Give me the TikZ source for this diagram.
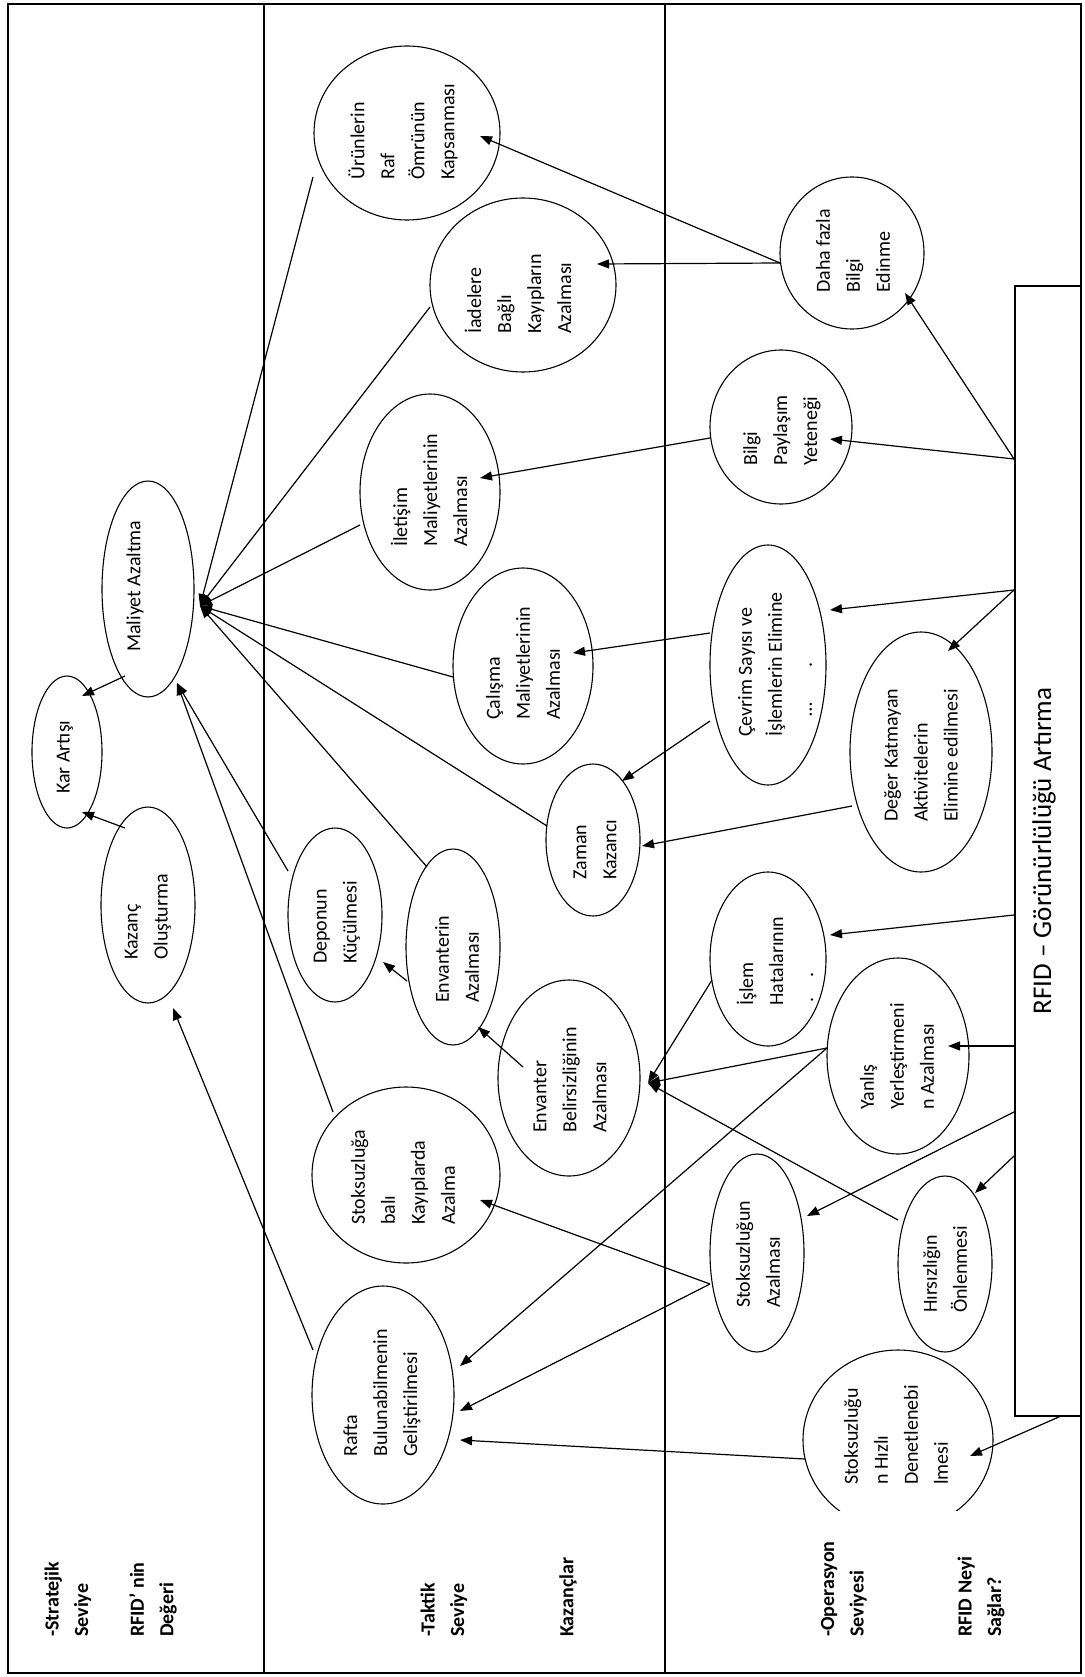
\documentclass[tikz,border=0pt]{standalone}
\usepackage{fontspec}
\setmainfont{Carlito}
\usetikzlibrary{shapes.geometric,arrows.meta,calc}
\begin{document}
\begin{tikzpicture}[x=1pt,y=-1pt,
  oval/.style={draw,ellipse,inner sep=0pt,line width=1.1pt},
  lbl/.style={rotate=90,anchor=west,align=left,inner sep=0pt,font=\fontsize{20}{30}\selectfont},
  head/.style={rotate=90,anchor=west,align=left,inner sep=0pt,font=\fontsize{20}{29.5}\selectfont\bfseries},
  link/.style={line width=1.2pt},
  arr/.style={line width=1.2pt,-{Triangle[length=12pt,width=9pt]}},
  rule/.style={line width=2.8pt}]
\useasboundingbox (0,0) rectangle (1084,1677);
\fill[white] (0,0) rectangle (1084,1677);

% frame and the three level columns
\draw[rule] (8,4) rectangle (1081,1673);
\draw[rule] (264,4) -- (264,1673);
\draw[rule] (665,4) -- (665,1673);

% RFID box along the right edge
\node[draw,line width=2.8pt,minimum width=66pt,minimum height=1130pt,inner sep=0pt] (rfid) at (1048,851) {};
\node[rotate=90,inner sep=0pt,font=\fontsize{27}{32}\selectfont] (rfid-t) at (1044,851) {RFID – Görünürlülüğü Artırma};

% level headings
\node[head] (h1) at (68,1637) {-Stratejik\\Seviye};
\node[head] (h2) at (153,1637) {RFID’ nin\\Değeri};
\node[head] (h3) at (444,1637) {-Taktik\\Seviye};
\node[head] (h4) at (568,1637) {Kazançlar};
\node[head] (h5) at (844,1637) {-Operasyon\\Seviyesi};
\node[head] (h6) at (981,1637) {RFID Neyi\\Sağlar?};

% ovals
\node[oval,minimum width=70pt,minimum height=152pt] (kar) at (67,752) {};
\node[oval,minimum width=92pt,minimum height=216pt] (mal) at (148,589) {};
\node[oval,minimum width=94pt,minimum height=196pt] (kaz) at (148,905) {};
\node[oval,minimum width=186pt,minimum height=174pt] (urun) at (407,133) {};
\node[oval,minimum width=186pt,minimum height=174pt] (iade) at (523,285) {};
\node[oval,minimum width=140pt,minimum height=196pt] (ilet) at (430,492) {};
\node[oval,minimum width=140pt,minimum height=196pt] (cal) at (523,666) {};
\node[oval,minimum width=94pt,minimum height=152pt] (zam) at (593,840) {};
\node[oval,minimum width=94pt,minimum height=174pt] (depo) at (335,915) {};
\node[oval,minimum width=94pt,minimum height=196pt] (envz) at (453,947) {};
\node[oval,minimum width=142pt,minimum height=196pt] (envb) at (569,1078) {};
\node[oval,minimum width=188pt,minimum height=176pt] (stka) at (406,1175) {};
\node[oval,minimum width=142pt,minimum height=218pt] (raf) at (383,1395) {};
\node[oval,minimum width=144pt,minimum height=152pt] (daha) at (852,253) {};
\node[oval,minimum width=142pt,minimum height=154pt] (bilg) at (781,427) {};
\node[oval,minimum width=116pt,minimum height=240pt] (cev) at (768,665) {};
\node[oval,minimum width=142pt,minimum height=240pt] (deg) at (921,752) {};
\node[oval,minimum width=116pt,minimum height=174pt] (isl) at (768,959) {};
\node[oval,minimum width=142pt,minimum height=196pt] (yan) at (898,1056) {};
\node[oval,minimum width=94pt,minimum height=198pt] (stoa) at (757,1253) {};
\node[oval,minimum width=94pt,minimum height=176pt] (hirs) at (945,1264) {};
% this oval is cut off at its lower side
\node[ellipse,inner sep=0pt,minimum width=190pt,minimum height=180pt] (stoh) at (898,1440) {};
\begin{scope}
  \clip (790,1330) rectangle (1010,1510);
  \draw[line width=1.1pt] (stoh) ellipse [x radius=95pt, y radius=90pt];
\end{scope}

% oval texts
\node[lbl] (kar-t) at (65,794) {Kar Artışı};
\node[lbl] (mal-t) at (135,652) {Maliyet Azaltma};
\node[lbl] (kaz-t) at (148,960) {Kazanç\\Oluşturma};
\node[lbl] (urun-t) at (403,180) {Ürünlerin\\Raf\\Ömrünün\\Kapsanması};
\node[lbl] (iade-t) at (518,334) {İadelere\\Bağlı\\Kayıpların\\Azalması};
\node[lbl] (ilet-t) at (429,547) {İletişim\\Maliyetlerinin\\Azalması};
\node[lbl] (cal-t) at (523,720) {Çalışma\\Maliyetlerinin\\Azalması};
\node[lbl] (zam-t) at (595,880) {Zaman\\Kazancı};
\node[lbl] (depo-t) at (337,964) {Deponun\\Küçülmesi};
\node[lbl] (envz-t) at (457,1003) {Envanterin\\Azalması};
\node[lbl] (envb-t) at (570,1133) {Envanter\\Belirsizliğinin\\Azalması};
\node[lbl] (stka-t) at (403,1225) {Stoksuzluğa\\balı\\Kayıplarda\\Azalma};
\node[lbl] (raf-t) at (382,1457) {Rafta\\Bulunabilmenin\\Geliştirilmesi};
\node[lbl] (daha-t) at (853,293) {Daha fazla\\Bilgi\\Edinme};
\node[lbl] (bilg-t) at (782,466) {Bilgi\\Paylaşım\\Yeteneği};
\node[lbl] (cev-t) at (775,737) {Çevrim Sayısı ve\\İşlemlerin Elimine\\\hspace*{20pt}\ldots\hspace{36pt}.};
\node[lbl] (deg-t) at (921,822) {Değer Katmayan\\Aktivitelerin\\Elimine edilmesi};
\node[lbl] (isl-t) at (775,1006) {İşlem\\Hatalarının\\\hspace*{3pt}.\hspace{20pt}.};
\node[lbl] (yan-t) at (897,1110) {Yanlış\\Yerleştirmeni\\n Azalması};
\node[lbl] (stoa-t) at (758,1308) {Stoksuzluğun\\Azalması};
\node[lbl] (hirs-t) at (945,1313) {Hırsızlığın\\Önlenmesi};
\node[lbl] (stoh-t) at (896,1485) {Stoksuzluğu\\n Hızlı\\Denetlenebi\\lmesi};

% strategic level
\draw[arr] ($(mal)+(-23,87)$) -- ($(kar)+(15,-56)$);
\draw[arr] ($(kaz)+(-23,-77)$) -- ($(kar)+(15,60)$);
\draw[arr] ($(raf)+(-70,-45)$) -- ($(kaz)+(25,103)$);

% tactical gains into cost reduction
\draw[arr] ($(urun)+(-94,44)$) -- ($(mal)+(52,17)$);
\draw[arr] ($(iade)+(-93,22)$) -- ($(mal)+(52,17)$);
\draw[arr] ($(ilet)+(-70,33)$) -- ($(mal)+(52,17)$);
\draw[arr] ($(cal)+(-70,11)$) -- ($(mal)+(52,17)$);
\draw[arr] ($(zam)+(-46,-14)$) -- ($(mal)+(52,17)$);
\draw[arr] ($(envz)+(-26,-80)$) -- ($(mal)+(52,17)$);
\draw[arr] ($(depo)+(-47,-44)$) -- ($(mal)+(29,94)$);
\draw[arr] ($(stka)+(-73,-63)$) -- ($(mal)+(29,94)$);
\draw[arr] ($(envb)+(-46,-11)$) -- ($(envz)+(25,80)$);
\draw[arr] ($(envz)+(-46,34)$) -- ($(depo)+(48,47)$);

% operational level into tactical level
\draw[arr] ($(daha)+(-72,10)$) -- ($(urun)+(73,3)$);
\draw[arr] ($(daha)+(-72,10)$) -- ($(iade)+(74,-21)$);
\draw[arr] ($(bilg)+(-71,11)$) -- ($(ilet)+(50,-14)$);
\draw[arr] ($(cev)+(-58,-32)$) -- ($(cal)+(50,-13)$);
\draw[arr] ($(cev)+(-58,56)$) -- ($(zam)+(29,-59)$);
\draw[arr] ($(deg)+(-69,54)$) -- ($(zam)+(49,6)$);
\draw[arr] ($(isl)+(-56,21)$) -- ($(envb)+(79,5)$);
\draw[arr] ($(yan)+(-71,-8)$) -- ($(envb)+(79,5)$);
\draw[arr] ($(hirs)+(-47,-44)$) -- ($(envb)+(79,5)$);
\draw[arr] ($(yan)+(-71,-8)$) -- ($(raf)+(77,-29)$);
\draw[arr] ($(stoa)+(-47,31)$) -- ($(stka)+(74,25)$);
\draw[arr] ($(stoa)+(-47,31)$) -- ($(raf)+(77,16)$);
\draw[arr] ($(stoh)+(-93,19)$) -- ($(raf)+(77,45)$);

% RFID box into the operational level
\draw[arr] ($(rfid)+(-34,-392)$) -- ($(daha)+(53,40)$);
\draw[arr] ($(rfid)+(-34,-392)$) -- ($(bilg)+(49,12)$);
\draw[arr] ($(rfid)+(-34,-261)$) -- ($(cev)+(62,-55)$);
\draw[arr] ($(rfid)+(-34,-261)$) -- ($(deg)+(27,-101)$);
\draw[arr] ($(rfid)+(-34,64)$) -- ($(isl)+(62,-24)$);
\draw[arr] ($(rfid)+(-34,195)$) -- ($(yan)+(50,-10)$);
\draw[arr] ($(rfid)+(-34,261)$) -- ($(stoa)+(50,-37)$);
\draw[arr] ($(rfid)+(-34,305)$) -- ($(hirs)+(30,-71)$);
\draw[arr] ($(rfid)+(13,565)$) -- ($(stoh)+(72,16)$);
\end{tikzpicture}
\end{document}
